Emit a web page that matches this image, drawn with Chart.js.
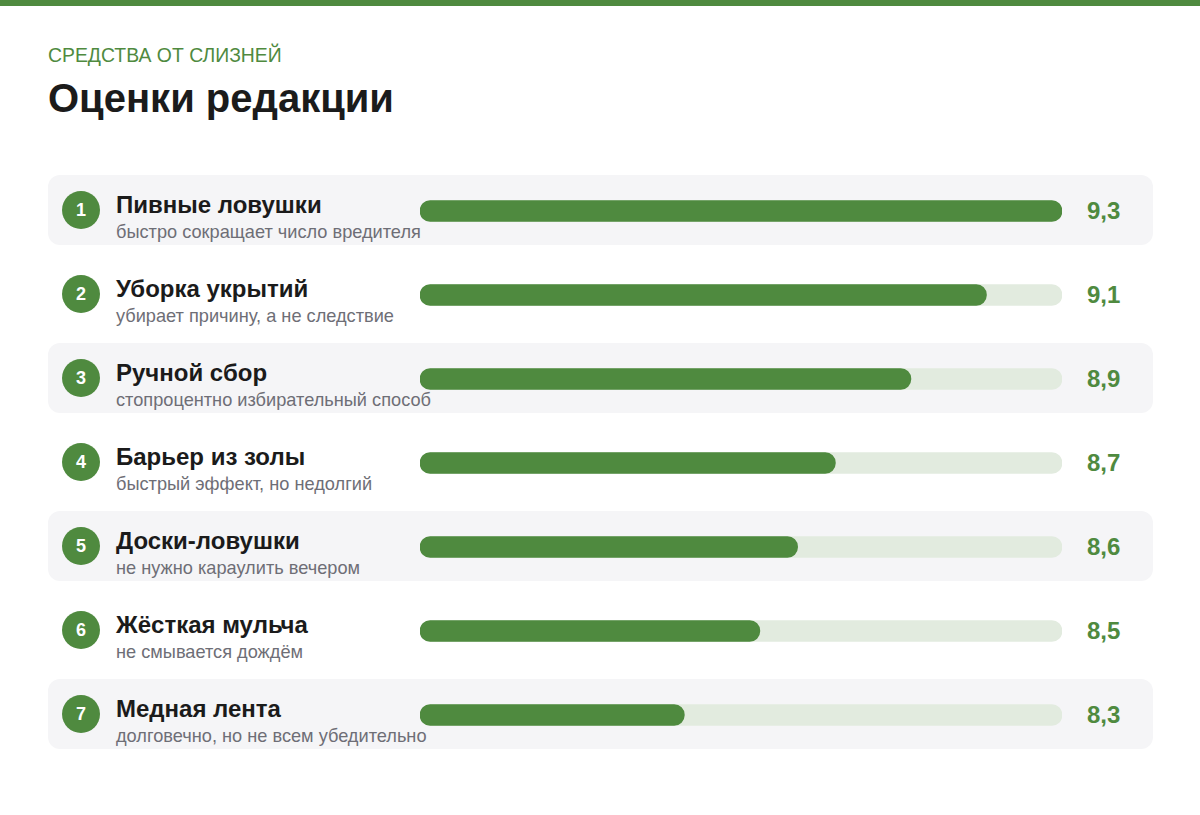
<!DOCTYPE html>
<html lang="ru">
<head>
<meta charset="utf-8">
<title>Оценки редакции</title>
<script src="https://cdn.jsdelivr.net/npm/chart.js@4.4.1/dist/chart.umd.min.js"></script>
<style>
  html, body {
    margin: 0;
    padding: 0;
    background: #ffffff;
  }

  body {
    width: 1200px;
    height: 815px;
    position: relative;
    overflow: hidden;
    font-family: "Liberation Sans", Arial, sans-serif;
  }

  .top-strip {
    position: absolute;
    left: 0;
    top: 0;
    width: 1200px;
    height: 6px;
    background: #4f8a3f;
  }

  .kicker {
    position: absolute;
    left: 48px;
    top: 46px;
    font-size: 19.4px;
    line-height: 19px;
    color: #4f8a3f;
    white-space: nowrap;
  }

  .title {
    position: absolute;
    left: 48px;
    top: 78px;
    font-size: 40px;
    line-height: 40px;
    font-weight: bold;
    color: #1b1b1b;
    white-space: nowrap;
  }

  .row {
    position: absolute;
    left: 48px;
    width: 1105px;
    height: 70px;
    border-radius: 12px;
  }

  .row.shaded {
    background: #f5f5f7;
  }

  .badge {
    position: absolute;
    left: 14px;
    top: 16px;
    width: 38px;
    height: 38px;
    border-radius: 50%;
    background: #4f8a3f;
    color: #ffffff;
    font-size: 18px;
    font-weight: bold;
    line-height: 38px;
    text-align: center;
  }

  .name {
    position: absolute;
    left: 68px;
    top: 18px;
    font-size: 24px;
    line-height: 24px;
    font-weight: bold;
    color: #1b1b1b;
    white-space: nowrap;
  }

  .note {
    position: absolute;
    left: 68px;
    top: 48px;
    font-size: 18.2px;
    line-height: 18px;
    color: #6e6e76;
    white-space: nowrap;
  }

  .score {
    position: absolute;
    left: 1039px;
    top: 24px;
    font-size: 24px;
    line-height: 24px;
    font-weight: bold;
    color: #4f8a3f;
    white-space: nowrap;
  }

  .chart-box {
    position: absolute;
    left: 420px;
    top: 169px;
    width: 642px;
    height: 588px;
  }
</style>
</head>
<body>
  <div class="top-strip"></div>
  <div class="kicker">СРЕДСТВА ОТ СЛИЗНЕЙ</div>
  <div class="title">Оценки редакции</div>

  <div id="rows"></div>

  <div class="chart-box">
    <canvas id="chartScores"></canvas>
  </div>

<script>
  // --- данные ---
  const categories = [
    "Пивные ловушки",
    "Уборка укрытий",
    "Ручной сбор",
    "Барьер из золы",
    "Доски-ловушки",
    "Жёсткая мульча",
    "Медная лента",
  ];

  const notes = [
    "быстро сокращает число вредителя",
    "убирает причину, а не следствие",
    "стопроцентно избирательный способ",
    "быстрый эффект, но недолгий",
    "не нужно караулить вечером",
    "не смывается дождём",
    "долговечно, но не всем убедительно",
  ];

  const scores = [9.3, 9.1, 8.9, 8.7, 8.6, 8.5, 8.3];

  const SCALE_MIN = 7.6;
  const SCALE_MAX = 9.3;

  const GREEN = "#4f8a3f";
  const TRACK = "#e2ebdf";

  const ROW_TOP = 175;
  const ROW_STEP = 84;


  function formatScore(value) {
    return value.toFixed(1).replace(".", ",");
  }


  function buildRows() {
    const holder = document.getElementById("rows");

    categories.forEach(function (name, i) {
      const row = document.createElement("div");
      row.className = "row" + (i % 2 === 0 ? " shaded" : "");
      row.style.top = ROW_TOP + i * ROW_STEP + "px";

      row.innerHTML =
        '<div class="badge">' + (i + 1) + "</div>" +
        '<div class="name">' + name + "</div>" +
        '<div class="note">' + notes[i] + "</div>" +
        '<div class="score">' + formatScore(scores[i]) + "</div>";

      holder.appendChild(row);
    });
  }


  function createScoreChart() {
    const ctx = document.getElementById("chartScores");

    if (!ctx) return;

    new Chart(ctx, {
      type: "bar",
      data: {
        labels: categories,
        datasets: [
          {
            label: "Оценка",
            data: scores,
            base: SCALE_MIN,
            backgroundColor: GREEN,
            borderRadius: 11,
            borderSkipped: false,
            barThickness: 21,
            grouped: false,
            order: 1,
          },
          {
            label: "Шкала",
            data: categories.map(() => SCALE_MAX),
            base: SCALE_MIN,
            backgroundColor: TRACK,
            borderRadius: 11,
            borderSkipped: false,
            barThickness: 21,
            grouped: false,
            order: 2,
          },
        ],
      },
      options: {
        indexAxis: "y",
        responsive: true,
        maintainAspectRatio: false,
        animation: false,
        layout: {
          padding: 0,
        },
        plugins: {
          legend: { display: false },
          tooltip: { enabled: false },
        },
        scales: {
          x: {
            display: false,
            beginAtZero: false,
            min: SCALE_MIN,
            max: SCALE_MAX,
          },
          y: {
            display: false,
          },
        },
      },
    });
  }


  buildRows();
  createScoreChart();
</script>
</body>
</html>
